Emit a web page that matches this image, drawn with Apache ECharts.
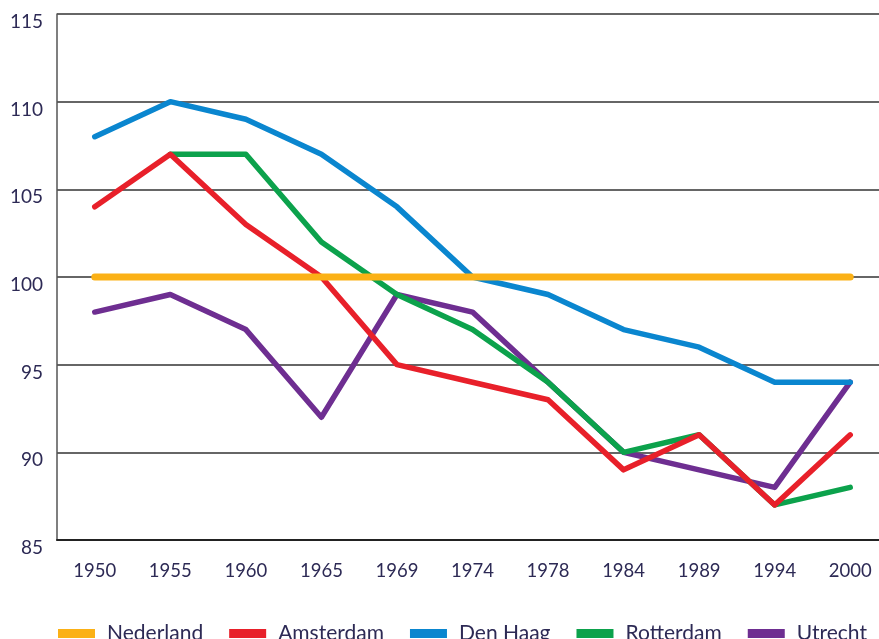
<!DOCTYPE html>
<html>
<head>
<meta charset="utf-8">
<script src="https://cdn.jsdelivr.net/npm/echarts@6/dist/echarts.min.js"></script>
<style>
html,body{margin:0;padding:0;background:#fff;overflow:hidden;width:879px;height:639px;}
#chart{width:888px;height:639px;}
</style>
</head>
<body>
<div id="chart"></div>
<script>
var years = ['1950','1955','1960','1965','1969','1974','1978','1984','1989','1994','2000'];
var nederland = [100,100,100,100,100,100,100,100,100,100,100];
var amsterdam = [104,107,103,100,95,94,93,89,91,87,91];
var denHaag   = [108,110,109,107,104,100,99,97,96,94,94];
var rotterdam = [null,107,107,102,99,97,94,90,91,87,88];
var utrecht   = [98,99,97,92,99,98,94,90,89,88,94];
var yTicks = {min: 85, max: 115, interval: 5};

var FONT = 'Lato, "Open Sans", sans-serif';
var TXT = '#2d2a55';

function line(name, data, color, width, z) {
  return {
    name: name, type: 'line', data: data, z: z,
    symbol: 'none', showSymbol: false, connectNulls: false,
    lineStyle: {color: color, width: width, cap: 'round', join: 'round'},
    itemStyle: {color: color},
    emphasis: {disabled: true}
  };
}

var chart = echarts.init(document.getElementById('chart'), null, {renderer: 'canvas'});
chart.setOption({
  animation: false,
  backgroundColor: '#fff',
  grid: {left: 57, right: 0, top: 14, bottom: 99, containLabel: false},
  legend: {
    left: 53, top: 618,
    icon: 'rect', itemWidth: 37, itemHeight: 9, itemGap: 26,
    textStyle: {fontFamily: FONT, fontSize: 21, color: TXT, padding: [0, 0, 0, 7]},
    data: ['Nederland','Amsterdam','Den Haag','Rotterdam','Utrecht']
  },
  xAxis: {
    type: 'category', data: years, boundaryGap: true,
    axisLine: {show: true, lineStyle: {color: '#222', width: 2}},
    axisTick: {show: false},
    axisLabel: {fontFamily: FONT, fontSize: 18.5, color: TXT, margin: 22}
  },
  yAxis: {
    type: 'value', min: yTicks.min, max: yTicks.max, interval: yTicks.interval,
    axisLine: {show: true, lineStyle: {color: '#555', width: 1.5}},
    axisTick: {show: false},
    splitLine: {show: true, lineStyle: {color: '#333', width: 1.5}},
    axisLabel: {fontFamily: FONT, fontSize: 19, color: TXT, margin: 14,
      verticalAlign: 'top', lineHeight: 16}
  },
  series: [
    line('Nederland', nederland, '#FBB116', 7, 6),
    line('Amsterdam', amsterdam, '#E8202A', 5.5, 5),
    line('Den Haag', denHaag, '#0A86CF', 5.5, 4),
    line('Rotterdam', rotterdam, '#0CA24C', 5.5, 3),
    line('Utrecht', utrecht, '#6E2E91', 5.5, 2)
  ]
});
</script>
</body>
</html>
